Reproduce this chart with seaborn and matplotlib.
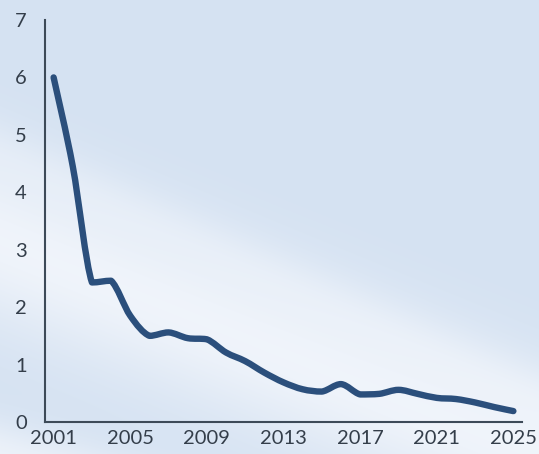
import numpy as np
import pandas as pd
import matplotlib
matplotlib.use("Agg")
import matplotlib.pyplot as plt
import seaborn as sns
from matplotlib.path import Path
from matplotlib.patches import PathPatch

# Annual values
years = list(range(2001, 2026))
values = [6.00, 4.45, 2.43, 2.46, 1.85, 1.50, 1.56, 1.46, 1.44, 1.21,
          1.06, 0.86, 0.69, 0.57, 0.53, 0.66, 0.48, 0.49, 0.56, 0.49,
          0.42, 0.40, 0.34, 0.26, 0.19]
x_ticks = [2001, 2005, 2009, 2013, 2017, 2021, 2025]
y_ticks = [0, 1, 2, 3, 4, 5, 6, 7]

df = pd.DataFrame({"year": years, "value": values})

sns.set_theme(style="white")
plt.rcParams["font.family"] = ["Lato", "DejaVu Sans"]

W, H = 539, 454
fig = plt.figure(figsize=(W / 100, H / 100), dpi=100)

# Soft sky-like backdrop: light blue with diagonal pale bands
yy, xx = np.mgrid[0:H, 0:W].astype(float)
blue = np.array([213, 226, 242]) / 255.0
white = np.array([241, 245, 251]) / 255.0
band1 = np.exp(-((yy - (240 + 0.40 * xx)) / 85.0) ** 2)
band2 = np.exp(-((yy - (455 + 0.28 * xx)) / 35.0) ** 2)
band3 = np.exp(-((yy - (150 + 0.45 * xx)) / 30.0) ** 2) * 0.25
w = np.clip(band1 * 0.95 + band2 * 0.8 + band3, 0, 1)[..., None]
bg = blue * (1 - w) + white * w
bg_ax = fig.add_axes([0, 0, 1, 1], zorder=-1)
bg_ax.imshow(bg, aspect="auto", extent=(0, 1, 0, 1), interpolation="bilinear")
bg_ax.axis("off")

ax = fig.add_axes([45 / W, (H - 422) / H, 477 / W, 402 / H])
ax.set_facecolor("none")

line_color = "#2b4f7c"
sns.lineplot(data=df, x="year", y="value", ax=ax, color=line_color,
             linewidth=4.6, solid_capstyle="round", solid_joinstyle="round")

# Render the series as a smooth curve (cubic Beziers, control points kept
# within each segment's value range so the curve does not overshoot)
base = ax.lines[0]
pts = base.get_xydata()
verts = [tuple(pts[0])]
codes = [Path.MOVETO]
n = len(pts)
for i in range(n - 1):
    p0 = pts[i - 1] if i > 0 else pts[i]
    p1 = pts[i]
    p2 = pts[i + 1]
    p3 = pts[i + 2] if i + 2 < n else pts[i + 1]
    c1 = p1 + (p2 - p0) / 6.0
    c2 = p2 - (p3 - p1) / 6.0
    lo, hi = min(p1[1], p2[1]), max(p1[1], p2[1])
    c1[1] = np.clip(c1[1], lo, hi)
    c2[1] = np.clip(c2[1], lo, hi)
    verts += [tuple(c1), tuple(c2), tuple(p2)]
    codes += [Path.CURVE4] * 3
curve = PathPatch(Path(verts, codes), facecolor="none", edgecolor=line_color,
                  linewidth=4.6, capstyle="round", joinstyle="round",
                  transform=ax.transData, zorder=3)
ax.add_patch(curve)
base.set_visible(False)

ax.set_xlim(2000.55, 2025.45)
ax.set_ylim(0, 7)
ax.set_xticks(x_ticks)
ax.set_yticks(y_ticks)
ax.set_xticklabels([str(t) for t in x_ticks])
ax.set_yticklabels([str(t) for t in y_ticks])
ax.set_xlabel("")
ax.set_ylabel("")

for side in ("top", "right"):
    ax.spines[side].set_visible(False)
for side in ("left", "bottom"):
    ax.spines[side].set_color("#3d4a58")
    ax.spines[side].set_linewidth(1.5)

ax.tick_params(axis="both", length=0, labelsize=14.5, labelcolor="#343e4a")
ax.tick_params(axis="y", pad=13)
ax.tick_params(axis="x", pad=6)
ax.grid(False)

fig.savefig("out.png", dpi=100)
